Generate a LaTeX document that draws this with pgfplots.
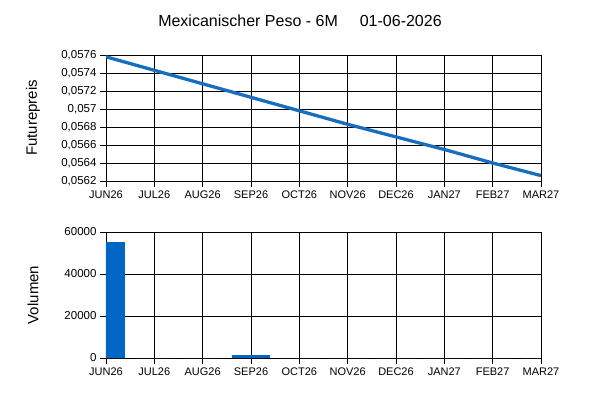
\documentclass[border=0pt]{standalone}
\usepackage{pgfplots}
\pgfplotsset{compat=1.18}
\usepackage{fontspec}
\setmainfont{Liberation Sans}
\definecolor{lineblue}{RGB}{24,110,190}
\definecolor{barblue}{RGB}{0,102,196}
\pgfplotsset{
  common/.style={
    scale only axis, width=435pt, height=126pt,
    xmin=0, xmax=9,
    xtick={0,...,9},
    xticklabels={JUN26,JUL26,AUG26,SEP26,OCT26,NOV26,DEC26,JAN27,FEB27,MAR27},
    grid=major,
    major grid style={black, line width=0.8pt},
    axis line style={black, line width=0.8pt},
    tick style={black, line width=0.8pt},
    tick align=outside, major tick length=6pt,
    tick pos=left,
    /pgf/number format/assume math mode=true,
    ticklabel style={font=\fontsize{11.5}{13}\selectfont},
    xticklabel style={font=\fontsize{11}{13}\selectfont},
    ylabel style={font=\fontsize{15}{17}\selectfont},
    anchor=south west,
  }
}
\begin{document}
\begin{tikzpicture}
\path (0pt,0pt) rectangle (600pt,400pt);
\node[font=\fontsize{16}{18}\selectfont] at (300pt,379pt) {Mexicanischer Peso - 6M\hspace{22pt}01-06-2026};
\begin{axis}[common, at={(106pt,219pt)},
  ymin=0.0562, ymax=0.0576,
  ytick={0.0562,0.0564,0.0566,0.0568,0.057,0.0572,0.0574,0.0576},
  scaled y ticks=false,
  yticklabel style={/pgf/number format/.cd, fixed, precision=4, use comma},
  ylabel={Futurepreis},
  ylabel style={at={(-73pt,63pt)}, anchor=center},
]
\addplot[lineblue, line width=3.3pt] coordinates {
(0,0.05758) (1,0.05743) (2,0.05728) (3,0.05713) (4,0.05698)
(5,0.05683) (6,0.05669) (7,0.05655) (8,0.05640) (9,0.05626)};
\end{axis}
\begin{axis}[common, at={(106pt,42pt)},
  ymin=0, ymax=60000,
  ytick={0,20000,40000,60000},
  scaled y ticks=false,
  yticklabel style={/pgf/number format/.cd, fixed, 1000 sep={}},
  ylabel={Volumen},
  ylabel style={at={(-73pt,63pt)}, anchor=center},
]
\addplot[ybar, bar width=38pt, fill=barblue, draw=none] coordinates {
(0,55200) (1,0) (2,0) (3,1400) (4,0) (5,0) (6,0) (7,0) (8,0) (9,0)};
\end{axis}
\end{tikzpicture}
\end{document}
